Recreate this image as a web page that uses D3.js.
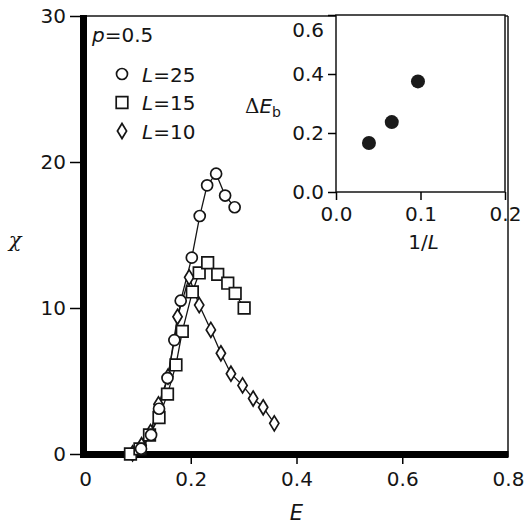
<!DOCTYPE html>
<html>
<head>
<meta charset="utf-8">
<script src="https://cdn.jsdelivr.net/npm/d3@7"></script>
<style>
  body { margin: 0; background: #fff; }
  svg text { font-family: "DejaVu Sans", sans-serif; fill: #151515; }
  .tick text { font-size: 20px; }
</style>
</head>
<body>
<div id="chart"></div>
<script>
// main panel: chi vs E for three lattice sizes
const E25 = [0.106, 0.125, 0.140, 0.156, 0.169, 0.181, 0.202, 0.217, 0.231, 0.248, 0.265, 0.283];
const chi25 = [0.36, 1.3, 3.1, 5.2, 7.8, 10.5, 13.45, 16.3, 18.4, 19.2, 17.7, 16.9];

const E15 = [0.086, 0.104, 0.122, 0.140, 0.156, 0.172, 0.184, 0.203, 0.216, 0.232, 0.251, 0.270, 0.284, 0.301];
const chi15 = [0.0, 0.35, 1.3, 2.5, 4.1, 6.1, 8.4, 11.1, 12.4, 13.1, 12.3, 11.7, 11.0, 10.0];

const E10 = [0.090, 0.107, 0.124, 0.139, 0.157, 0.175, 0.197, 0.216, 0.238, 0.257, 0.276, 0.298, 0.318, 0.337, 0.358];
const chi10 = [0.05, 0.6, 1.5, 3.4, 5.3, 9.4, 12.1, 10.2, 8.5, 6.9, 5.5, 4.7, 3.8, 3.2, 2.1];

const seriesNames = ["25", "15", "10"];
const seriesShapes = ["circle", "square", "diamond"];

// inset: barrier vs 1/L
const invL = [0.039, 0.066, 0.097];
const dEb = [0.166, 0.237, 0.375];

const xTicks = [0, 0.2, 0.4, 0.6, 0.8];
const yTicks = [0, 10, 20, 30];
const xiTicks = [0, 0.1, 0.2];
const yiTicks = [0, 0.2, 0.4, 0.6];

const W = 524, H = 525;
const svg = d3.select("#chart").append("svg")
    .attr("width", W).attr("height", H);

svg.append("rect").attr("width", W).attr("height", H).attr("fill", "#fff");

const x = d3.scaleLinear().domain([0, 0.8]).range([85, 508]);
const y = d3.scaleLinear().domain([0, 30]).range([454, 16]);

// marker paths
function marker(shape) {
    if (shape === "circle") return "M-5.5,0a5.5,5.5 0 1,0 11,0a5.5,5.5 0 1,0 -11,0Z";
    if (shape === "square") return "M-5.8,-5.8H5.8V5.8H-5.8Z";
    return "M0,-7.5L4.6,0L0,7.5L-4.6,0Z";
}

// frame: thin top/right, thick left/bottom
svg.append("line").attr("x1", 83).attr("x2", 508).attr("y1", 16).attr("y2", 16)
    .attr("stroke", "#151515").attr("stroke-width", 1.5);
svg.append("line").attr("x1", 508).attr("x2", 508).attr("y1", 16).attr("y2", 457)
    .attr("stroke", "#151515").attr("stroke-width", 1.5);

// axes
const gx = svg.append("g")
    .attr("transform", "translate(0,457)")
    .call(d3.axisBottom(x).tickValues(xTicks).tickSize(7).tickPadding(8)
        .tickFormat(d => d === 0 ? "0" : d3.format(".1f")(d)));
gx.select(".domain").remove();
gx.selectAll(".tick line").attr("stroke-width", 1.5)
    .attr("opacity", d => (d === 0 || d === 0.8) ? 0 : 1);

const gy = svg.append("g")
    .attr("transform", "translate(80,0)")
    .call(d3.axisLeft(y).tickValues(yTicks).tickSize(10).tickPadding(4));
gy.select(".domain").remove();
gy.selectAll(".tick line").attr("stroke-width", 1.5);

svg.append("line").attr("x1", 83.5).attr("x2", 83.5).attr("y1", 15).attr("y2", 458)
    .attr("stroke", "#000").attr("stroke-width", 7);
svg.append("line").attr("x1", 80).attr("x2", 508.5).attr("y1", 454.5).attr("y2", 454.5)
    .attr("stroke", "#000").attr("stroke-width", 7);

// data series
const series = [
    { E: E25, chi: chi25 },
    { E: E15, chi: chi15 },
    { E: E10, chi: chi10 }
];

const line = d3.line().x(d => x(d[0])).y(d => y(d[1]));

series.forEach((s, i) => {
    const pts = s.E.map((e, j) => [e, s.chi[j]]);
    svg.append("path")
        .datum(pts)
        .attr("d", line)
        .attr("fill", "none")
        .attr("stroke", "#151515")
        .attr("stroke-width", 1.3);
    s.pts = pts;
});

// markers drawn after all lines so that they sit on top
[2, 1, 0].forEach(i => {
    svg.selectAll(".m" + i)
        .data(series[i].pts)
        .enter().append("path")
        .attr("class", "m" + i)
        .attr("transform", d => `translate(${x(d[0])},${y(d[1])})`)
        .attr("d", marker(seriesShapes[i]))
        .attr("fill", "#fff")
        .attr("stroke", "#151515")
        .attr("stroke-width", 1.7);
});

// axis titles
svg.append("text")
    .attr("x", x(0.4)).attr("y", 520)
    .attr("text-anchor", "middle")
    .style("font-size", "21px").style("font-style", "italic")
    .text("E");

svg.append("text")
    .attr("x", 15).attr("y", 247)
    .attr("text-anchor", "middle")
    .style("font-family", "'DejaVu Serif', serif")
    .style("font-size", "21px").style("font-style", "italic")
    .text("χ");

// annotation and legend
const pLab = svg.append("text").attr("x", 92).attr("y", 42).style("font-size", "20px");
pLab.append("tspan").style("font-style", "italic").text("p");
pLab.append("tspan").text("=0.5");

const legend = svg.selectAll(".legend")
    .data(seriesNames)
    .enter().append("g")
    .attr("class", "legend")
    .attr("transform", (d, i) => `translate(122, ${74 + i * 28.5})`);

legend.append("path")
    .attr("d", (d, i) => marker(seriesShapes[i]))
    .attr("fill", "#fff")
    .attr("stroke", "#151515")
    .attr("stroke-width", 1.7);

const lt = legend.append("text")
    .attr("x", 20).attr("y", 7.5)
    .style("font-size", "20px");
lt.append("tspan").style("font-style", "italic").text("L");
lt.append("tspan").text(d => "=" + d);

// inset
const xi = d3.scaleLinear().domain([0, 0.2]).range([336, 505]);
const yi = d3.scaleLinear().domain([0, 0.6]).range([192, 15]);

svg.append("rect")
    .attr("x", xi(0)).attr("y", yi(0.6))
    .attr("width", xi(0.2) - xi(0)).attr("height", yi(0) - yi(0.6))
    .attr("fill", "#fff")
    .attr("stroke", "#151515").attr("stroke-width", 1.5);

const gxi = svg.append("g")
    .attr("transform", `translate(0,${yi(0)})`)
    .call(d3.axisBottom(xi).tickValues(xiTicks).tickSize(8).tickPadding(7)
        .tickFormat(d3.format(".1f")));
gxi.select(".domain").remove();
gxi.selectAll(".tick line").attr("stroke-width", 1.5);

const gyi = svg.append("g")
    .attr("transform", `translate(${xi(0)},0)`)
    .call(d3.axisLeft(yi).tickValues(yiTicks).tickSize(8).tickPadding(4)
        .tickFormat(d3.format(".1f")));
gyi.select(".domain").remove();
gyi.selectAll(".tick line").attr("stroke-width", 1.5);
// top label sits a little below the frame line
gyi.selectAll(".tick text").filter(d => d === 0.6).attr("y", 15);

svg.selectAll(".dot")
    .data(invL)
    .enter().append("circle")
    .attr("cx", d => xi(d))
    .attr("cy", (d, i) => yi(dEb[i]))
    .attr("r", 7)
    .attr("fill", "#1a1a1a");

const il = svg.append("text")
    .attr("x", xi(0.1) + 3).attr("y", 249)
    .attr("text-anchor", "middle")
    .style("font-size", "20px");
il.append("tspan").text("1/");
il.append("tspan").style("font-style", "italic").text("L");

const de = svg.append("text").attr("x", 245).attr("y", 113).style("font-size", "20px");
de.append("tspan").style("font-family", "'DejaVu Serif', serif").text("Δ");
de.append("tspan").style("font-style", "italic").text("E");
de.append("tspan").attr("dy", 4).style("font-size", "14px").text("b");
</script>
</body>
</html>
